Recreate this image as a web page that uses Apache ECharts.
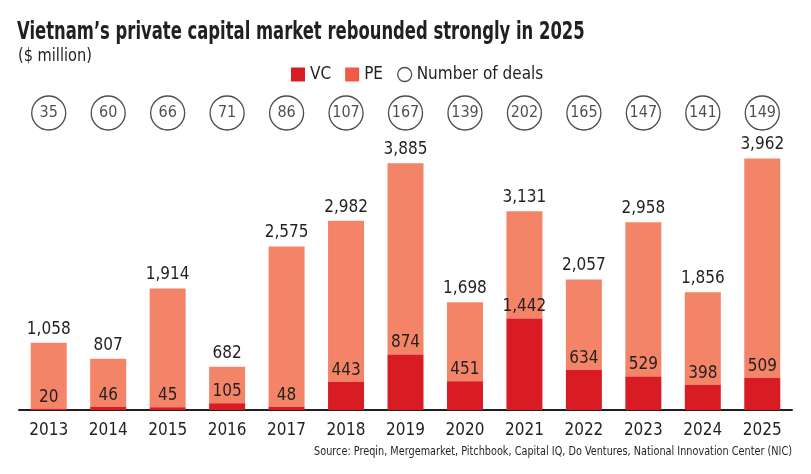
<!DOCTYPE html>
<html>
<head>
<meta charset="utf-8">
<script src="https://cdn.jsdelivr.net/npm/echarts@6/dist/echarts.min.js"></script>
<style>
    html, body { margin: 0; padding: 0; background: #fff; }
    #chart { width: 811px; height: 474px; }
</style>
</head>
<body>
<div id="chart"></div>
<script>
var years = ['2013', '2014', '2015', '2016', '2017', '2018', '2019', '2020', '2021', '2022', '2023', '2024', '2025'];
var vcValues = [20, 46, 45, 105, 48, 443, 874, 451, 1442, 634, 529, 398, 509];     // VC
var totalValues = [1058, 807, 1914, 682, 2575, 2982, 3885, 1698, 3131, 2057, 2958, 1856, 3962];  // VC + PE
var dealCounts = [35, 60, 66, 71, 86, 107, 167, 139, 202, 165, 147, 141, 149];   // Number of deals

var font = '"DejaVu Sans Condensed", "Liberation Sans Narrow", sans-serif';
var ink = '#231f20';

// PE 部分 = 总额 - VC
var peValues = totalValues.map(function (t, i) { return t - vcValues[i]; });

function fmt(v) {
    return v.toLocaleString('en-US');
}

var chart = echarts.init(document.getElementById('chart'));

var option = {
    animation: false,
    textStyle: { fontFamily: font, color: ink },
    // 标题和来源用 graphic 文本，横向压缩以接近原图的窄体字
    graphic: [{
        type: 'text',
        x: 17, y: 20,
        scaleX: 0.73,
        style: {
            text: 'Vietnam\u2019s private capital market rebounded strongly in 2025',
            font: 'bold 25px ' + font,
            fill: ink,
            textAlign: 'left',
            textVerticalAlign: 'top'
        }
    }, {
        type: 'text',
        x: 18, y: 47,
        scaleX: 0.9,
        style: {
            text: '($ million)',
            font: '18px ' + font,
            fill: ink,
            textAlign: 'left',
            textVerticalAlign: 'top'
        }
    }, {
        type: 'text',
        x: 792, y: 445,
        scaleX: 0.83,
        style: {
            text: 'Source: Preqin, Mergemarket, Pitchbook, Capital IQ, Do Ventures, National Innovation Center (NIC)',
            font: '13px ' + font,
            fill: ink,
            textAlign: 'right',
            textVerticalAlign: 'top'
        }
    }],
    legend: {
        left: 286, top: 61,
        itemWidth: 14, itemHeight: 14, itemGap: 14,
        textStyle: { fontFamily: font, fontSize: 17, color: ink },
        data: [
            { name: 'VC', icon: 'rect' },
            { name: 'PE', icon: 'rect', itemStyle: { color: '#ef5b43' } },
            { name: 'Number of deals', icon: 'circle', itemStyle: { color: '#fff', borderColor: ink, borderWidth: 1.3 } }
        ]
    },
    grid: [{
        left: 19, right: 19, top: 156, bottom: 64
    }, {
        left: 19, right: 19, top: 96, height: 34
    }],
    xAxis: [{
        type: 'category',
        data: years,
        axisTick: { show: false },
        axisLine: { lineStyle: { color: ink, width: 2 } },
        axisLabel: { fontFamily: font, fontSize: 17, color: ink, margin: 12 }
    }, {
        type: 'category',
        gridIndex: 1,
        data: years,
        show: false
    }],
    yAxis: [{
        type: 'value',
        min: 0, max: 4000,
        show: false
    }, {
        type: 'category',
        gridIndex: 1,
        data: ['deals'],
        show: false
    }],
    series: [{
        name: 'VC',
        type: 'bar',
        stack: 'total',
        barWidth: 36,
        data: vcValues,
        itemStyle: { color: '#d91c24' },
        label: {
            show: true, position: 'top', distance: 3,
            fontFamily: font, fontSize: 17, color: ink,
            formatter: function (p) { return fmt(p.value); }
        },
        z: 3
    }, {
        name: 'PE',
        type: 'bar',
        stack: 'total',
        barWidth: 36,
        data: peValues,
        itemStyle: { color: '#f38467' },
        label: {
            show: true, position: 'top', distance: 5,
            fontFamily: font, fontSize: 17, color: ink,
            formatter: function (p) { return fmt(totalValues[p.dataIndex]); }
        },
        z: 2
    }, {
        name: 'Number of deals',
        type: 'scatter',
        xAxisIndex: 1,
        yAxisIndex: 1,
        symbol: 'circle',
        symbolSize: 34,
        data: years.map(function (y, i) { return [y, 'deals', dealCounts[i]]; }),
        itemStyle: { color: '#fff', borderColor: ink, borderWidth: 1.3 },
        label: {
            show: true, position: 'inside',
            fontFamily: font, fontSize: 16, color: ink,
            formatter: function (p) { return p.value[2]; }
        }
    }]
};

chart.setOption(option);
</script>
</body>
</html>
